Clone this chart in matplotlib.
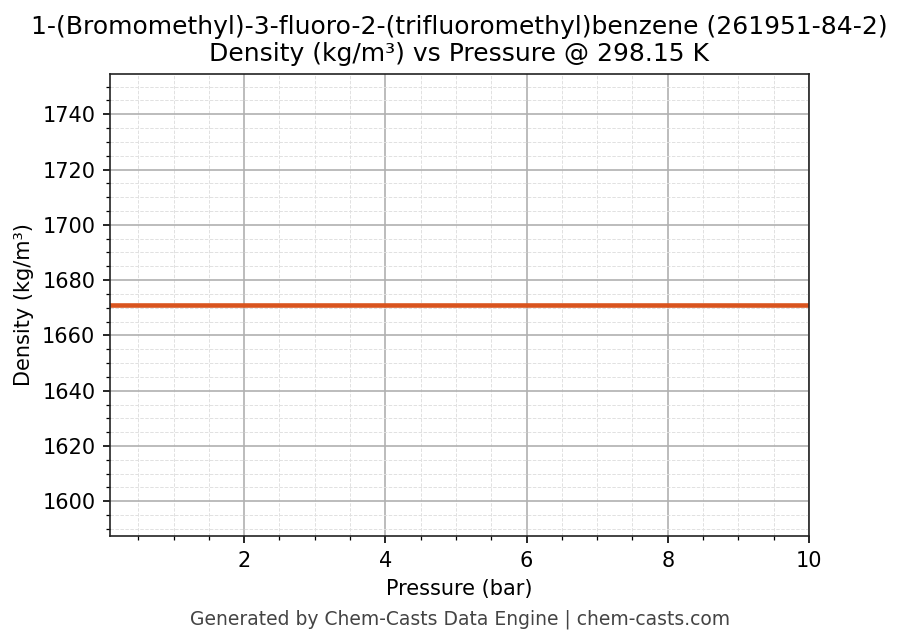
import matplotlib
matplotlib.use("Agg")
import matplotlib.pyplot as plt
from matplotlib.ticker import AutoMinorLocator

pressure_bar = [0.1, 1.0, 2.0, 3.0, 4.0, 5.0, 6.0, 7.0, 8.0, 9.0, 10.0]
density = [1671.0] * len(pressure_bar)

title = "1-(Bromomethyl)-3-fluoro-2-(trifluoromethyl)benzene (261951-84-2)\nDensity (kg/m³) vs Pressure @ 298.15 K"
footer = "Generated by Chem-Casts Data Engine | chem-casts.com"

fig = plt.figure(figsize=(903 / 150, 644 / 150), dpi=150)
ax = fig.add_axes([0.1218, 0.1677, 0.7741, 0.7174])

ax.plot(pressure_bar, density, color="#d9541e", linewidth=2.2)

ax.set_xlim(min(pressure_bar), max(pressure_bar))
ax.set_ylim(density[0] * 0.95, density[0] * 1.05)
ax.xaxis.set_minor_locator(AutoMinorLocator(4))
ax.yaxis.set_minor_locator(AutoMinorLocator(4))
ax.grid(True, which="major", color="#b0b0b0", linewidth=0.8)
ax.grid(True, which="minor", color="#e0e0e0", linestyle="--", linewidth=0.45)
ax.set_axisbelow(True)
for spine in ax.spines.values():
    spine.set_color("#222222")

ax.set_xlabel("Pressure (bar)", fontsize=10)
ax.set_ylabel("Density (kg/m³)", fontsize=10)
ax.tick_params(labelsize=10)
ax.set_title(title, fontsize=12)
fig.text(0.51, 0.03, footer, ha="center", fontsize=9, color="#444444")

fig.savefig("out.png", dpi=150)
